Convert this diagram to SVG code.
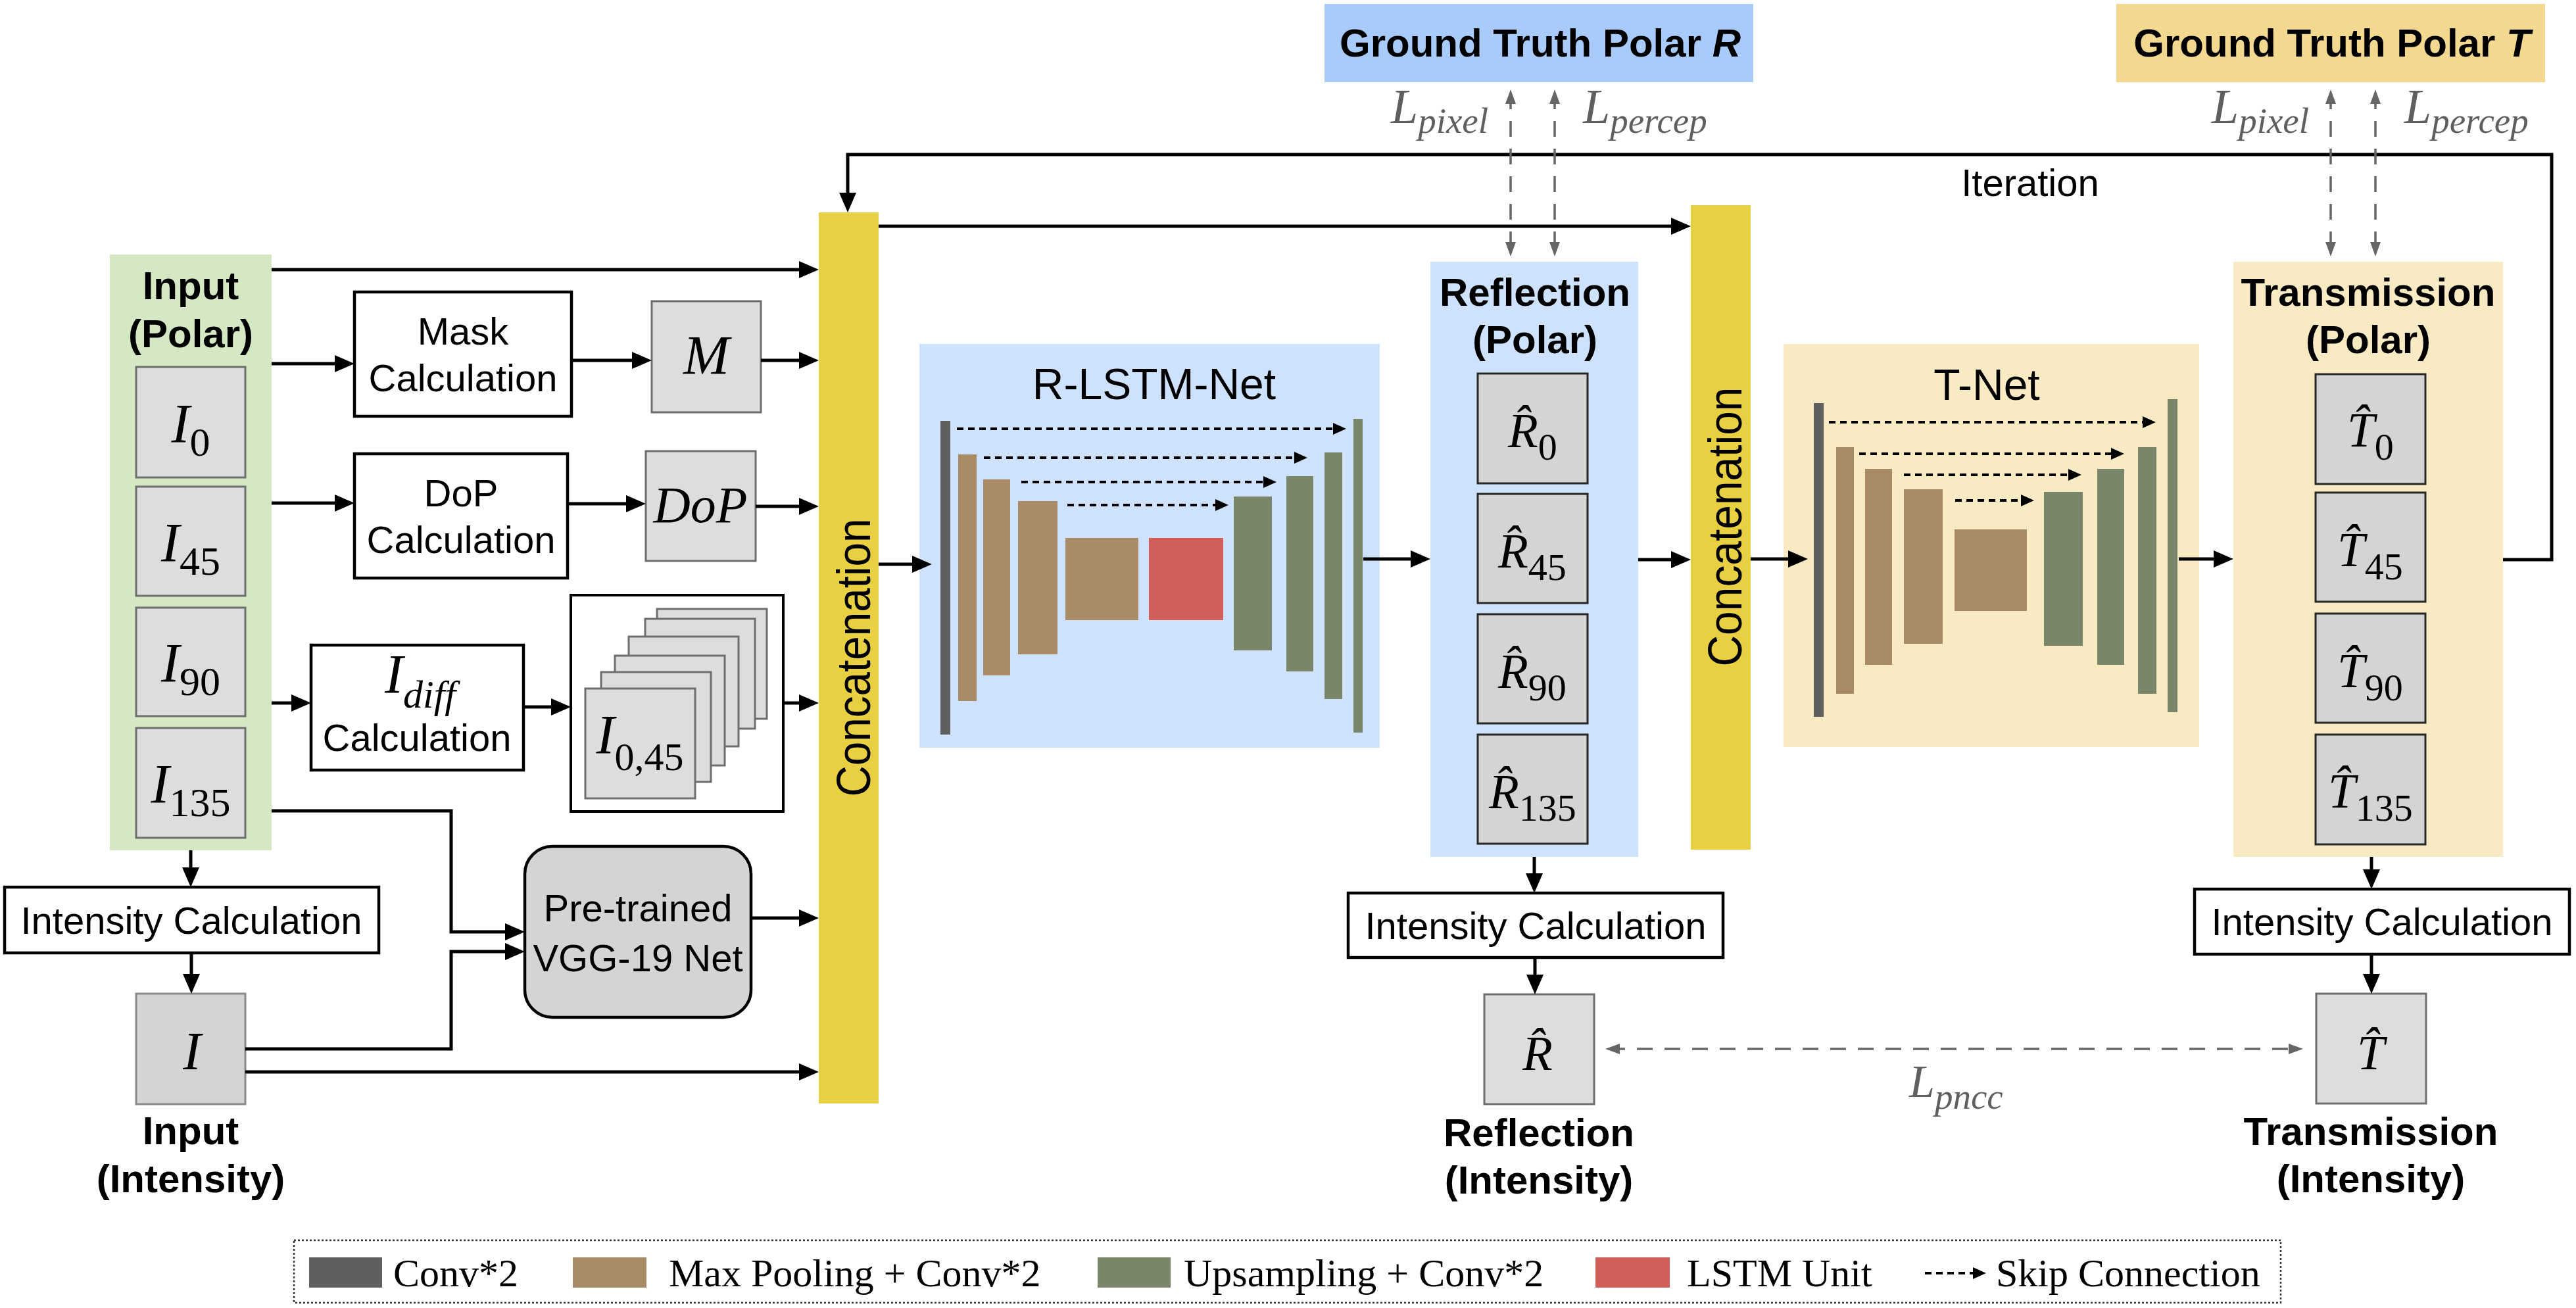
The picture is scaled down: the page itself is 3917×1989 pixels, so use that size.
<svg xmlns="http://www.w3.org/2000/svg" width="3917" height="1989" viewBox="0 0 3917 1989">
<defs>
<style>
.t{font-family:"Liberation Sans",Arial,sans-serif;font-size:58px;fill:#000}
.b{font-family:"Liberation Sans",Arial,sans-serif;font-size:60px;font-weight:bold;fill:#000}
.ti{font-family:"Liberation Sans",Arial,sans-serif;font-size:66px;fill:#000}
.c{text-anchor:middle}
.m{font-family:"Liberation Serif","Times New Roman",serif;font-style:italic;font-size:84px;fill:#000}
.mr{font-family:"Liberation Serif","Times New Roman",serif;font-style:italic;font-size:75px;fill:#000}
.s{font-size:62px;font-style:normal}
.s2{font-size:58px;font-style:normal}
.ls{font-family:"Liberation Serif","Times New Roman",serif;font-style:italic;font-size:74px;fill:#5f5f5f}
.lss{font-size:55px}
.lg{font-family:"Liberation Serif","Times New Roman",serif;font-size:60px;fill:#000}
.gbox{fill:#dcdddf;stroke:#6e6e6e;stroke-width:3}
.gbox2{fill:#d4d4d4;stroke:#262626;stroke-width:3}
.wbox{fill:#fff;stroke:#000;stroke-width:4.5}
.conc{fill:#e9d043}
.blue{fill:#cfe2fd}
.cream{fill:#f8eac3}
.dk{fill:#5f5f5f}
.br{fill:#a88b65}
.gr{fill:#7a866a}
.rd{fill:#d05f59}
.ar{fill:none;stroke:#000;stroke-width:5;marker-end:url(#ah)}
.sk{fill:none;stroke:#000;stroke-width:4;stroke-dasharray:10 7;marker-end:url(#sk)}
.gd{fill:none;stroke:#666;stroke-width:3.5;stroke-dasharray:24 18;marker-end:url(#ga);marker-start:url(#ga)}
</style>
<marker id="ah" viewBox="0 0 30 26" refX="22" refY="13" markerWidth="30" markerHeight="26" markerUnits="userSpaceOnUse" orient="auto"><path d="M0,0 L30,13 L0,26 z" fill="#000"/></marker>
<marker id="sk" viewBox="0 0 20 18" refX="14" refY="9" markerWidth="20" markerHeight="18" markerUnits="userSpaceOnUse" orient="auto"><path d="M0,0 L20,9 L0,18 z" fill="#000"/></marker>
<marker id="ga" viewBox="0 0 22 16" refX="16" refY="8" markerWidth="22" markerHeight="16" markerUnits="userSpaceOnUse" orient="auto-start-reverse"><path d="M0,0 L22,8 L0,16 z" fill="#666"/></marker>
</defs>
<rect width="3917" height="1989" fill="#fff"/>

<g id="input-polar">
<rect x="167" y="387" width="246" height="906" fill="#d5e8c4"/>
<text class="b c" x="290" y="455">Input</text>
<text class="b c" x="290" y="528">(Polar)</text>
<rect class="gbox" x="207" y="558" width="166" height="168"/>
<text class="m c" x="290" y="673">I<tspan class="s" dy="20">0</tspan></text>
<rect class="gbox" x="207" y="740" width="166" height="166"/>
<text class="m c" x="290" y="854">I<tspan class="s" dy="20">45</tspan></text>
<rect class="gbox" x="207" y="924" width="166" height="165"/>
<text class="m c" x="290" y="1037">I<tspan class="s" dy="20">90</tspan></text>
<rect class="gbox" x="207" y="1107" width="166" height="167"/>
<text class="m c" x="290" y="1221">I<tspan class="s" dy="20">135</tspan></text>
</g>

<g id="mask-calc">
<rect class="wbox" x="539" y="444" width="330" height="189"/>
<text class="t c" x="704" y="524">Mask</text>
<text class="t c" x="704" y="595">Calculation</text>
</g>
<g id="mask-m">
<rect class="gbox" x="991" y="458" width="166" height="169"/>
<text class="m c" x="1074" y="569">M</text>
</g>
<g id="dop-calc">
<rect class="wbox" x="539" y="690" width="324" height="189"/>
<text class="t c" x="701" y="770">DoP</text>
<text class="t c" x="701" y="841">Calculation</text>
</g>
<g id="dop">
<rect class="gbox" x="982" y="686" width="167" height="167"/>
<text class="m c" x="1065" y="794" style="font-size:78px">DoP</text>
</g>
<g id="idiff-calc">
<rect class="wbox" x="473" y="981" width="323" height="190"/>
<text class="m c" x="639" y="1054">I<tspan style="font-size:60px" dy="22">diff</tspan></text>
<text class="t c" x="634" y="1142">Calculation</text>
</g>
<g id="idiff-stack">
<rect x="868" y="905" width="323" height="329" fill="#fff" stroke="#000" stroke-width="4"/>
<rect class="gbox" x="999" y="926" width="167" height="167"/>
<rect class="gbox" x="981" y="941" width="167" height="167"/>
<rect class="gbox" x="956" y="968" width="167" height="167"/>
<rect class="gbox" x="935" y="997" width="167" height="167"/>
<rect class="gbox" x="914" y="1022" width="167" height="167"/>
<rect class="gbox" x="890" y="1047" width="167" height="167"/>
<text class="m c" x="973" y="1146">I<tspan style="font-size:60px;font-style:normal" dy="25">0,45</tspan></text>
</g>
<g id="vgg">
<rect x="798" y="1287" width="344" height="260" rx="42" fill="#d4d4d4" stroke="#000" stroke-width="4.5"/>
<text class="t c" x="970" y="1401">Pre-trained</text>
<text class="t c" x="970" y="1477">VGG-19 Net</text>
</g>
<g id="intensity-calc-in">
<rect class="wbox" x="7" y="1349" width="569" height="100"/>
<text class="t c" x="291" y="1420">Intensity Calculation</text>
</g>
<g id="input-intensity">
<rect x="207" y="1511" width="166" height="168" fill="#d4d4d4" stroke="#8a8a8a" stroke-width="3"/>
<text class="m c" x="292" y="1626" style="font-size:82px">I</text>
<text class="b c" x="290" y="1740">Input</text>
<text class="b c" x="290" y="1813">(Intensity)</text>
</g>

<g id="concat1">
<rect class="conc" x="1245" y="323" width="91" height="1355"/>
<text class="t c" transform="translate(1323,1000) rotate(-90)" style="font-size:72px" textLength="423" lengthAdjust="spacingAndGlyphs">Concatenation</text>
</g>

<g id="r-lstm-net">
<rect class="blue" x="1398" y="523" width="700" height="614"/>
<text class="ti c" x="1755" y="607">R-LSTM-Net</text>
<rect class="dk" x="1430" y="640" width="15" height="477"/>
<rect class="br" x="1457" y="691" width="28" height="375"/>
<rect class="br" x="1495" y="729" width="41" height="298"/>
<rect class="br" x="1548" y="762" width="60" height="233"/>
<rect class="br" x="1620" y="818" width="111" height="125"/>
<rect class="rd" x="1747" y="818" width="113" height="125"/>
<rect class="gr" x="1876" y="755" width="58" height="234"/>
<rect class="gr" x="1956" y="724" width="41" height="297"/>
<rect class="gr" x="2014" y="688" width="27" height="375"/>
<rect class="gr" x="2058" y="637" width="14" height="477"/>
<path class="sk" d="M1455,652 H2041"/>
<path class="sk" d="M1496,696 H1982"/>
<path class="sk" d="M1553,733 H1935"/>
<path class="sk" d="M1623,768 H1862"/>
</g>

<g id="gt-r">
<rect x="2014" y="6" width="652" height="119" fill="#a8cbfa"/>
<text class="b c" x="2342" y="86">Ground Truth Polar <tspan font-style="italic">R</tspan></text>
</g>
<g id="reflection-polar">
<rect class="blue" x="2175" y="398" width="316" height="905"/>
<text class="b c" x="2334" y="465">Reflection</text>
<text class="b c" x="2334" y="537">(Polar)</text>
<rect class="gbox2" x="2247" y="568" width="167" height="167"/>
<text class="mr" x="2293" y="680">R&#x302;<tspan class="s2" dy="19">0</tspan></text>
<rect class="gbox2" x="2247" y="751" width="167" height="166"/>
<text class="mr" x="2278" y="863">R&#x302;<tspan class="s2" dy="19">45</tspan></text>
<rect class="gbox2" x="2247" y="934" width="167" height="166"/>
<text class="mr" x="2278" y="1046">R&#x302;<tspan class="s2" dy="19">90</tspan></text>
<rect class="gbox2" x="2247" y="1117" width="167" height="166"/>
<text class="mr" x="2264" y="1229">R&#x302;<tspan class="s2" dy="19">135</tspan></text>
</g>
<g id="intensity-calc-r">
<rect class="wbox" x="2050" y="1358" width="570" height="98"/>
<text class="t c" x="2335" y="1428">Intensity Calculation</text>
</g>
<g id="reflection-intensity">
<rect class="gbox" x="2257" y="1512" width="167" height="167"/>
<text class="mr" x="2315" y="1627">R&#x302;</text>
<text class="b c" x="2340" y="1743">Reflection</text>
<text class="b c" x="2340" y="1815">(Intensity)</text>
</g>

<g id="concat2">
<rect class="conc" x="2571" y="312" width="91" height="980"/>
<text class="t c" transform="translate(2648,801) rotate(-90)" style="font-size:72px" textLength="425" lengthAdjust="spacingAndGlyphs">Concatenation</text>
</g>

<g id="t-net">
<rect class="cream" x="2712" y="523" width="632" height="613"/>
<text class="ti c" x="3021" y="608">T-Net</text>
<rect class="dk" x="2758" y="613" width="15" height="477"/>
<rect class="br" x="2792" y="680" width="27" height="375"/>
<rect class="br" x="2836" y="713" width="41" height="298"/>
<rect class="br" x="2895" y="744" width="59" height="235"/>
<rect class="br" x="2972" y="805" width="110" height="124"/>
<rect class="gr" x="3108" y="748" width="59" height="234"/>
<rect class="gr" x="3189" y="713" width="41" height="298"/>
<rect class="gr" x="3251" y="680" width="28" height="375"/>
<rect class="gr" x="3296" y="607" width="15" height="476"/>
<path class="sk" d="M2781,642 H3272"/>
<path class="sk" d="M2827,690 H3224"/>
<path class="sk" d="M2895,722 H3159"/>
<path class="sk" d="M2973,761 H3087"/>
</g>

<g id="gt-t">
<rect x="3218" y="6" width="652" height="119" fill="#f2d98f"/>
<text class="b c" x="3546" y="86">Ground Truth Polar <tspan font-style="italic">T</tspan></text>
</g>
<g id="transmission-polar">
<rect class="cream" x="3396" y="398" width="410" height="905"/>
<text class="b c" x="3601" y="465">Transmission</text>
<text class="b c" x="3601" y="537">(Polar)</text>
<rect class="gbox2" x="3521" y="569" width="167" height="167"/>
<text class="mr" x="3569" y="679">T&#x302;<tspan class="s2" dy="20">0</tspan></text>
<rect class="gbox2" x="3521" y="749" width="167" height="166"/>
<text class="mr" x="3554" y="861">T&#x302;<tspan class="s2" dy="20">45</tspan></text>
<rect class="gbox2" x="3521" y="933" width="167" height="166"/>
<text class="mr" x="3554" y="1045">T&#x302;<tspan class="s2" dy="20">90</tspan></text>
<rect class="gbox2" x="3521" y="1117" width="167" height="167"/>
<text class="mr" x="3540" y="1228">T&#x302;<tspan class="s2" dy="20">135</tspan></text>
</g>
<g id="intensity-calc-t">
<rect class="wbox" x="3337" y="1352" width="570" height="99"/>
<text class="t c" x="3622" y="1422">Intensity Calculation</text>
</g>
<g id="transmission-intensity">
<rect class="gbox" x="3522" y="1511" width="167" height="167"/>
<text class="mr" x="3584" y="1626">T&#x302;</text>
<text class="b c" x="3605" y="1741">Transmission</text>
<text class="b c" x="3605" y="1813">(Intensity)</text>
</g>

<g id="connectors">
<path class="ar" d="M413,410 H1237"/>
<path class="ar" d="M413,553 H531"/>
<path class="ar" d="M869,548 H983"/>
<path class="ar" d="M1157,548 H1237"/>
<path class="ar" d="M413,765 H531"/>
<path class="ar" d="M863,766 H974"/>
<path class="ar" d="M1149,770 H1237"/>
<path class="ar" d="M413,1069 H465"/>
<path class="ar" d="M796,1075 H860"/>
<path class="ar" d="M1191,1069 H1237"/>
<path class="ar" d="M413,1233 H686 V1417 H790"/>
<path class="ar" d="M373,1595 H686 V1447 H790"/>
<path class="ar" d="M1142,1396 H1237"/>
<path class="ar" d="M373,1630 H1237"/>
<path class="ar" d="M290,1293 V1341"/>
<path class="ar" d="M291,1449 V1503"/>
<path class="ar" d="M3806,851 H3880 V235 H1289 V315"/>
<path class="ar" d="M1336,344 H2563"/>
<path class="ar" d="M1336,858 H1409"/>
<path class="ar" d="M2073,850 H2167"/>
<path class="ar" d="M2491,851 H2563"/>
<path class="ar" d="M2662,850 H2741"/>
<path class="ar" d="M3313,850 H3388"/>
<path class="ar" d="M2333,1303 V1350"/>
<path class="ar" d="M2334,1456 V1504"/>
<path class="ar" d="M3606,1303 V1344"/>
<path class="ar" d="M3606,1451 V1503"/>
<path class="gd" d="M2297,142 V384"/>
<path class="gd" d="M2364,142 V384"/>
<path class="gd" d="M3544,142 V384"/>
<path class="gd" d="M3612,142 V384"/>
<path class="gd" d="M2447,1595 H3496"/>
</g>

<g id="loss-labels">
<text class="ls" x="2115" y="187">L<tspan class="lss" dy="15">pixel</tspan></text>
<text class="ls" x="2407" y="187">L<tspan class="lss" dy="15">percep</tspan></text>
<text class="ls" x="3363" y="187">L<tspan class="lss" dy="15">pixel</tspan></text>
<text class="ls" x="3656" y="187">L<tspan class="lss" dy="15">percep</tspan></text>
<text class="ls" x="2903" y="1668" style="font-size:70px">L<tspan class="lss" dy="18">pncc</tspan></text>
<text class="t c" x="3087" y="298">Iteration</text>
</g>

<g id="legend">
<rect x="447" y="1886" width="3021" height="95" fill="none" stroke="#333" stroke-width="2.5" stroke-dasharray="3 3"/>
<rect class="dk" x="470" y="1912" width="111" height="46"/>
<text class="lg" x="598" y="1956">Conv*2</text>
<rect class="br" x="871" y="1912" width="112" height="46"/>
<text class="lg" x="1017" y="1956">Max Pooling + Conv*2</text>
<rect class="gr" x="1669" y="1912" width="111" height="46"/>
<text class="lg" x="1800" y="1956">Upsampling + Conv*2</text>
<rect class="rd" x="2426" y="1912" width="113" height="46"/>
<text class="lg" x="2565" y="1956">LSTM Unit</text>
<path class="sk" d="M2927,1936 H3014"/>
<text class="lg" x="3035" y="1956">Skip Connection</text>
</g>
</svg>
